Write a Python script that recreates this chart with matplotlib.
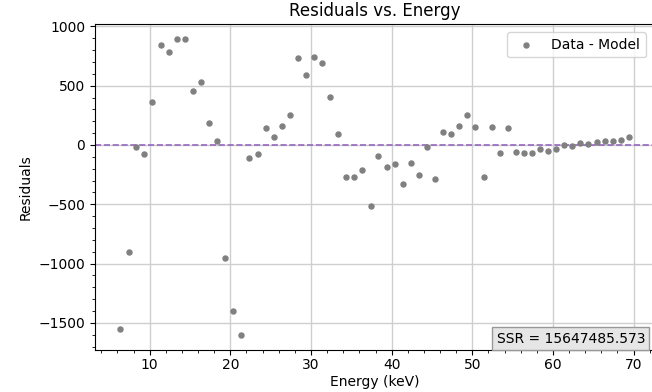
import matplotlib
matplotlib.use("Agg")
import matplotlib.pyplot as plt

energy = [6.37, 7.40, 8.36, 9.34, 10.33, 11.37, 12.36, 13.35, 14.34, 15.38,
          16.37, 17.36, 18.35, 19.38, 20.38, 21.37, 22.36, 23.39, 24.38, 25.37,
          26.36, 27.35, 28.40, 29.39, 30.38, 31.37, 32.40, 33.39, 34.38, 35.38,
          36.37, 37.40, 38.35, 39.38, 40.37, 41.41, 42.40, 43.40, 44.39, 45.38,
          46.40, 47.40, 48.39, 49.38, 50.38, 51.40, 52.40, 53.39, 54.38, 55.42,
          56.41, 57.40, 58.39, 59.38, 60.42, 61.41, 62.40, 63.39, 64.38, 65.41,
          66.40, 67.39, 68.38, 69.38]
residuals = [-1548, -906, -14, -76, 363, 842, 780, 895, 890, 453,
             532, 183, 31, -949, -1402, -1599, -113, -79, 141, 70,
             158, 253, 729, 594, 743, 690, 405, 90, -270, -273,
             -208, -518, -96, -186, -160, -327, -149, -253, -17, -287,
             113, 96, 163, 256, 149, -270, 149, -65, 141, -62,
             -70, -65, -34, -51, -34, -3, -6, 14, 8, 23,
             31, 31, 45, 70]
ssr_text = "SSR = 15647485.573"

fig = plt.figure(figsize=(6.52, 3.92), dpi=100)
ax = fig.add_axes([95/652, 1 - 349.5/392, (654 - 95)/652, (349.5 - 24)/392])

ax.scatter(energy, residuals, s=13, color="#808080", label="Data - Model", zorder=3)
ax.axhline(0, color="#9467bd", linestyle="--", linewidth=1.2, zorder=2)

ax.set_title("Residuals vs. Energy", fontsize=12)
ax.set_xlabel("Energy (keV)", labelpad=2)
ax.set_ylabel("Residuals")
ax.minorticks_on()
ax.tick_params(axis="x", which="major", pad=2.5)
ax.grid(True, which="major", color="#cfcfcf", linewidth=1.0)
ax.set_axisbelow(True)
ax.legend(loc="upper right", borderaxespad=0.6)
ax.text(0.984, 0.012, ssr_text, transform=ax.transAxes, ha="right", va="bottom",
        fontsize=10,
        bbox=dict(boxstyle="square,pad=0.3", facecolor="#e6e6e6", edgecolor="#999999"))

fig.savefig("out.png", dpi=100)
